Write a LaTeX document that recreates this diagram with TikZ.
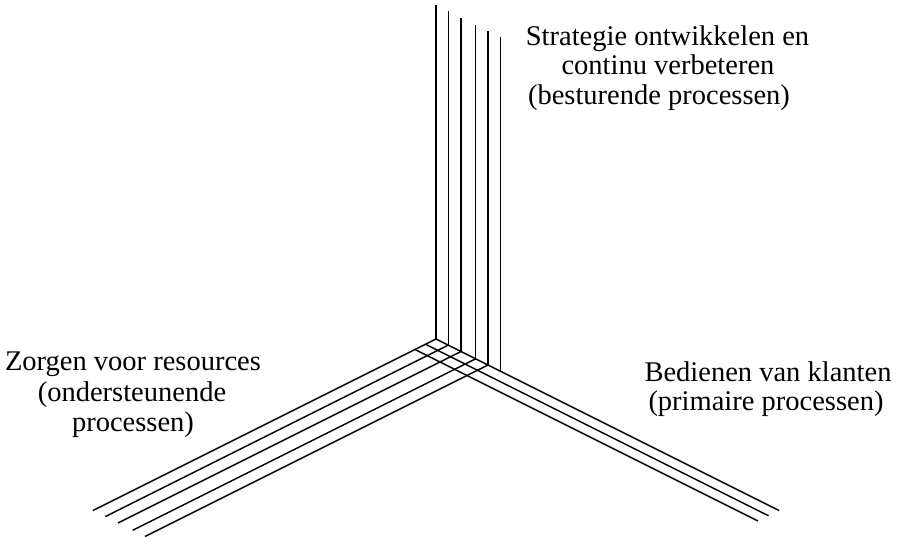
\documentclass[tikz,border=0pt]{standalone}
\usepackage{fontspec}
\setmainfont{Liberation Serif}
\usetikzlibrary{calc}
\begin{document}
\begin{tikzpicture}[x=1pt,y=-1pt,
  ln/.style={line width=1.45pt, line cap=butt},
  lbl/.style={font=\fontsize{28.5}{30}\selectfont, inner sep=0pt, anchor=base}]
\useasboundingbox (0,0) rectangle (900,536);
% origin
\coordinate (O) at (436,339);
% bottom points of the vertical lines, on the upper right-going line
\foreach \d [count=\i] in {0,12.3,25,39.6,52,64.3}{
  \coordinate (b\i) at ($(O)+(\d,\d/2)$);
  \coordinate (t\i) at ($(b\i)+(0,-334)$);
  \draw[ln] (b\i) -- (t\i);
}
% lines going to the lower left
\foreach \i in {1,...,5}{
  \coordinate (l\i) at ($(b\i)+(-343,171.5)$);
  \draw[ln] (b\i) -- (l\i);
}
% lines going to the lower right
\foreach \e [count=\k] in {0,10.5,21}{
  \coordinate (s\k) at ($(O)+(-\e,\e/2)$);
  \coordinate (r\k) at ($(s\k)+(343,171.5)$);
  \draw[ln] (s\k) -- (r\k);
}
% labels
\node[lbl] (st1) at (667.5,45) {Strategie ontwikkelen en};
\node[lbl] (st2) at (668,74.5) {continu verbeteren};
\node[lbl] (st3) at (659,104) {(besturende processen)};
\node[lbl] (zo1) at (133,370) {Zorgen voor resources};
\node[lbl] (zo2) at (132,401.5) {(ondersteunende};
\node[lbl] (zo3) at (133,431.5) {processen)};
\node[lbl] (be1) at (768,381) {Bedienen van klanten};
\node[lbl] (be2) at (766,410) {(primaire processen)};
\end{tikzpicture}
\end{document}
